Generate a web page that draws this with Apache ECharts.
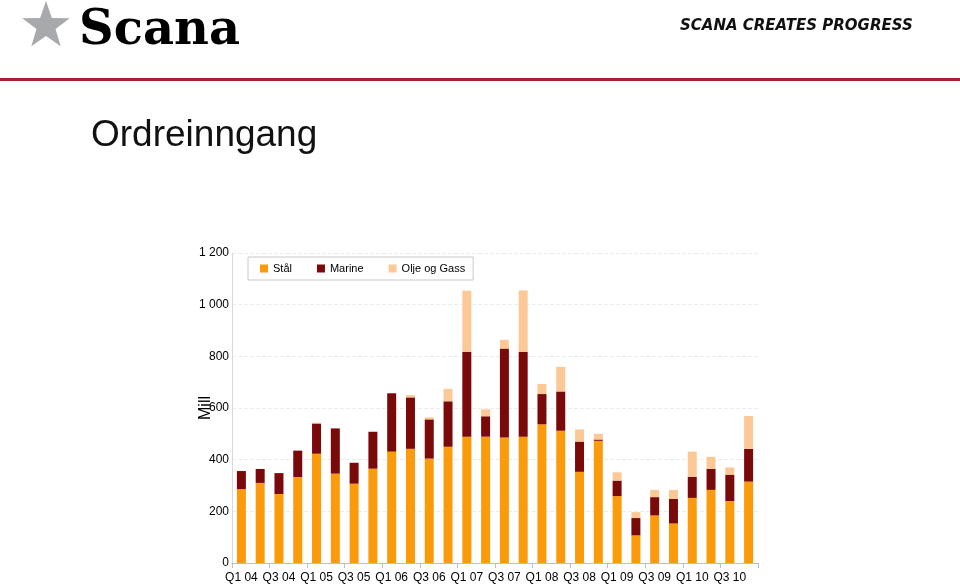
<!DOCTYPE html>
<html>
<head>
<meta charset="utf-8">
<script src="https://cdn.jsdelivr.net/npm/echarts@6/dist/echarts.min.js"></script>
<style>
  html, body { margin: 0; padding: 0; background: #fff; }
  #chart { width: 960px; height: 584px; }
</style>
</head>
<body>
<div id="chart"></div>
<script>
const quarters = ['Q1 04','Q2 04','Q3 04','Q4 04','Q1 05','Q2 05','Q3 05','Q4 05',
                  'Q1 06','Q2 06','Q3 06','Q4 06','Q1 07','Q2 07','Q3 07','Q4 07',
                  'Q1 08','Q2 08','Q3 08','Q4 08','Q1 09','Q2 09','Q3 09','Q4 09',
                  'Q1 10','Q2 10','Q3 10','Q4 10'];
const stal   = [286, 310, 267, 333, 423, 346, 307, 365, 431, 442, 404, 450, 489, 489,
                486, 489, 537, 512, 353, 473, 259, 107, 184, 153, 252, 283, 240, 315];
const marine = [70, 54, 81, 102, 117, 175, 81, 143, 226, 199, 152, 176, 329, 79,
                344, 329, 117, 152, 117, 5, 60, 67, 71, 95, 82, 82, 102, 127];
const olje   = [0, 0, 0, 0, 3, 0, 0, 0, 0, 9, 8, 48, 236, 27,
                34, 237, 39, 95, 47, 22, 32, 23, 28, 35, 97, 46, 28, 127];
const yTicks = [0, 200, 400, 600, 800, 1000, 1200];

const chart = echarts.init(document.getElementById('chart'));

// stjerne i logoen
function starPoints(cx, cy, r1, r2) {
    let pts = [];
    for (let i = 0; i < 10; i++) {
        let r = i % 2 === 0 ? r1 : r2;
        let a = -Math.PI / 2 + i * Math.PI / 5;
        pts.push([cx + r * Math.cos(a), cy + r * Math.sin(a)]);
    }
    return pts;
}

const font = '"Liberation Sans", Arial, sans-serif';

chart.setOption({
    animation: false,
    textStyle: { fontFamily: font },
    graphic: [
        { type: 'polygon', shape: { points: starPoints(46, 26, 25, 10) }, style: { fill: '#a7a9ac' } },
        { type: 'text', left: 79, top: 8, style: { text: 'Scana', font: 'bold 48px "DejaVu Serif", "Liberation Serif", serif', fill: '#000' } },
        { type: 'text', left: 680, top: 19, style: { text: 'SCANA CREATES PROGRESS', font: 'oblique bold 15px "DejaVu Sans", sans-serif', fill: '#111' } },
        { type: 'rect', shape: { x: 0, y: 78, width: 960, height: 3 }, style: { fill: '#a3222f' } },
        { type: 'text', left: 91, top: 117, style: { text: 'Ordreinngang', font: '37px "Liberation Sans", Arial, sans-serif', fill: '#111' } }
    ],
    legend: {
        left: 248, top: 257,
        padding: [6, 8, 6, 12],
        borderColor: '#c8c8c8', borderWidth: 1,
        icon: 'rect',
        itemWidth: 8, itemHeight: 8, itemGap: 25,
        textStyle: { fontSize: 11, color: '#000', fontFamily: font },
        data: ['Stål', 'Marine', 'Olje og Gass']
    },
    grid: { left: 232, right: 202, top: 253, bottom: 21 },
    xAxis: {
        type: 'category',
        data: quarters,
        axisLine: { lineStyle: { color: '#bfbfbf' } },
        axisTick: { show: true, lineStyle: { color: '#bfbfbf' } },
        axisLabel: { interval: 1, color: '#000', fontSize: 12, margin: 9 }
    },
    yAxis: {
        type: 'value',
        min: yTicks[0], max: yTicks[yTicks.length - 1], interval: 200,
        name: 'Mill',
        nameLocation: 'middle',
        nameGap: 18,
        nameRotate: 90,
        nameMoveOverlap: false,
        nameTextStyle: { fontSize: 16, color: '#000' },
        axisLine: { show: true, lineStyle: { color: '#d9d9d9' } },
        axisTick: { show: false },
        axisLabel: {
            color: '#000', fontSize: 12, margin: 3,
            formatter: v => v >= 1000 ? String(v).replace(/(\d)(\d{3})$/, '$1 $2') : String(v)
        },
        splitLine: { show: true, lineStyle: { color: '#ececec', type: 'dashed' } }
    },
    series: [
        { name: 'Stål', type: 'bar', stack: 'tot', data: stal, barWidth: 9, itemStyle: { color: '#fb9a0b' } },
        { name: 'Marine', type: 'bar', stack: 'tot', data: marine, barWidth: 9, itemStyle: { color: '#7a0a0a' } },
        { name: 'Olje og Gass', type: 'bar', stack: 'tot', data: olje, barWidth: 9, itemStyle: { color: '#fcc996' } }
    ]
});
</script>
</body>
</html>
